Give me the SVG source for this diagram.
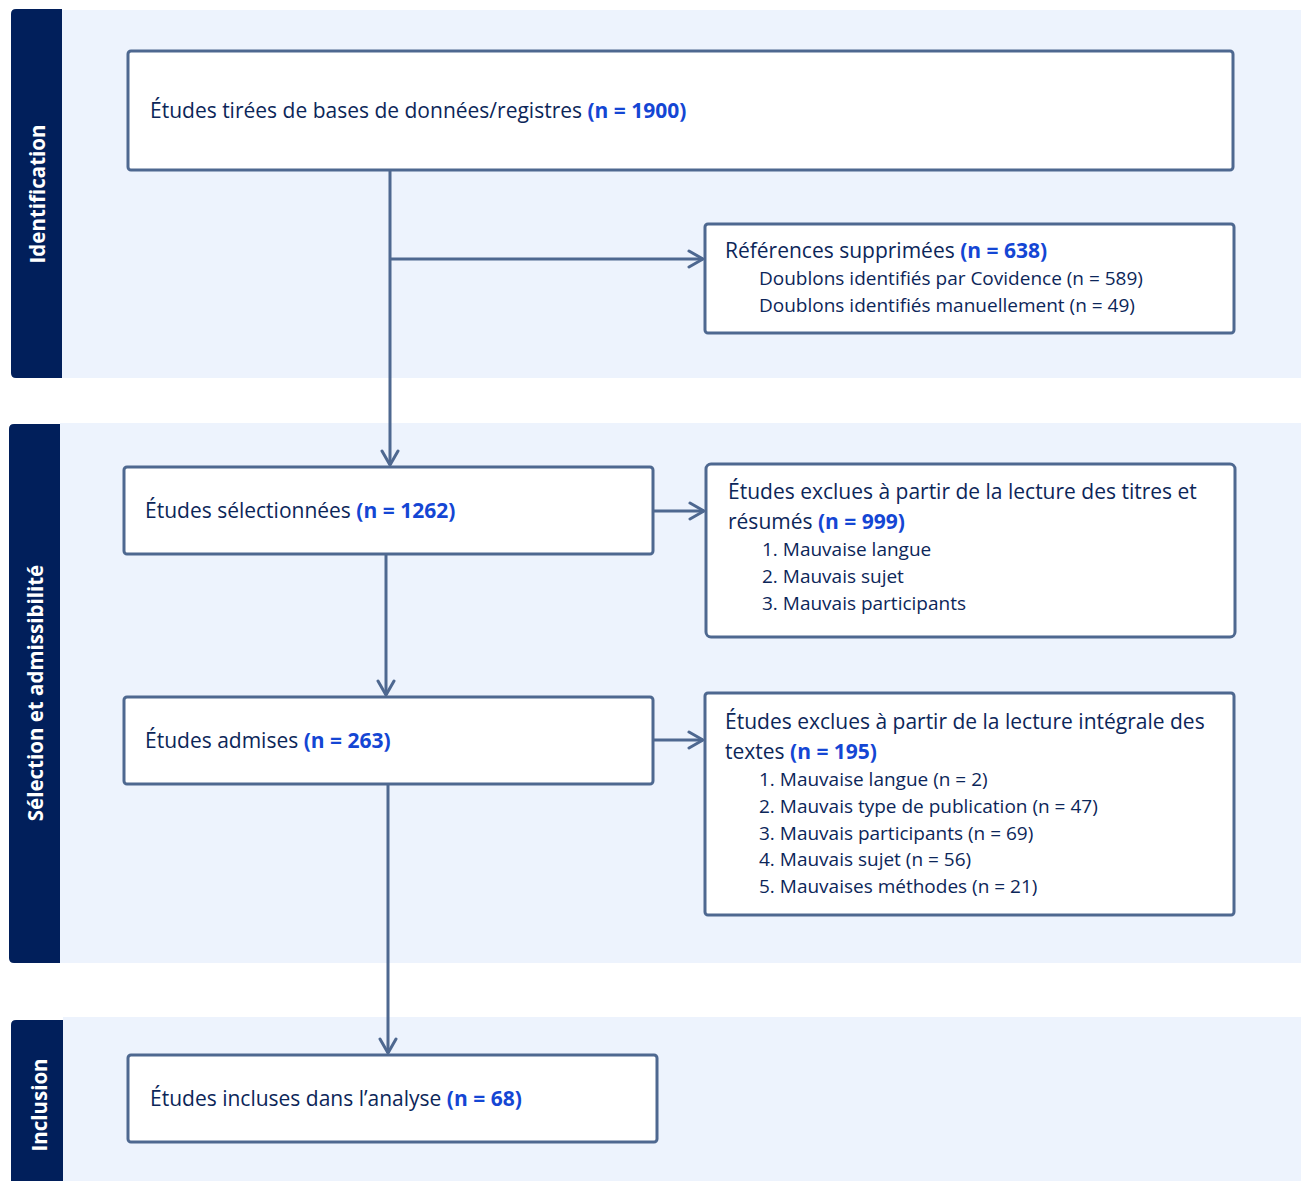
<svg xmlns="http://www.w3.org/2000/svg" width="1301" height="1181" viewBox="0 0 1301 1181">
<style>
.band{fill:#EDF3FD}
.side{fill:#011F5B}
.sidet{fill:#FFFFFF;font-family:"Open Sans",sans-serif;font-weight:700;font-size:20.5px;text-anchor:middle}
.box{fill:#FFFFFF;stroke:#4E6890;stroke-width:3}
.t{fill:#0C2659;font-family:"Open Sans",sans-serif;font-size:21px}
.s{fill:#0C2659;font-family:"Open Sans",sans-serif;font-size:19px}
.b{fill:#1446D4;font-weight:700}
.c{fill:none;stroke:#4E6890;stroke-width:3}
</style>
<defs>
<marker id="arr" viewBox="0 0 20 20" refX="18" refY="10" markerWidth="20" markerHeight="20" markerUnits="userSpaceOnUse" orient="auto">
<path d="M4,2 L18,10 L4,18" fill="none" stroke="#4E6890" stroke-width="3" stroke-linecap="round" stroke-linejoin="round"/>
</marker>
</defs>
<rect width="1301" height="1181" fill="#FFFFFF"/>
<g id="band-identification">
<rect class="band" x="62" y="10" width="1239" height="368"/>
<path class="side" d="M16,9 H62 V378 H16 Q11,378 11,373 V14 Q11,9 16,9 Z"/>
<text class="sidet" transform="translate(45,194) rotate(-90)">Identification</text>
</g>
<g id="band-selection">
<rect class="band" x="60" y="423" width="1241" height="540"/>
<path class="side" d="M14,424 H60 V963 H14 Q9,963 9,958 V429 Q9,424 14,424 Z"/>
<text class="sidet" transform="translate(43,693) rotate(-90)">Sélection  et  admissibilité</text>
</g>
<g id="band-inclusion">
<rect class="band" x="63" y="1017" width="1238" height="164"/>
<path class="side" d="M16,1020 H63 V1181 H11 V1025 Q11,1020 16,1020 Z"/>
<text class="sidet" transform="translate(47,1105) rotate(-90)">Inclusion</text>
</g>
<g id="connectors">
<path class="c" d="M390,170 V465" marker-end="url(#arr)"/>
<path class="c" d="M390,259 H703" marker-end="url(#arr)"/>
<path class="c" d="M653,511 H704" marker-end="url(#arr)"/>
<path class="c" d="M386,554 V695" marker-end="url(#arr)"/>
<path class="c" d="M653,740 H703" marker-end="url(#arr)"/>
<path class="c" d="M388,784 V1053" marker-end="url(#arr)"/>
</g>
<g id="n1">
<rect class="box" x="128" y="51" width="1105" height="119" rx="3"/>
<text class="t" x="150" y="118">Études tirées de bases de données/registres <tspan class="b">(n = 1900)</tspan></text>
</g>
<g id="n2">
<rect class="box" x="705" y="224" width="529" height="109" rx="3"/>
<text class="t" x="725" y="258">Références supprimées <tspan class="b">(n = 638)</tspan></text>
<text class="s" x="759" y="285">Doublons identifiés par Covidence (n = 589)</text>
<text class="s" x="759" y="312">Doublons identifiés manuellement (n = 49)</text>
</g>
<g id="n3">
<rect class="box" x="124" y="467" width="529" height="87" rx="3"/>
<text class="t" x="145" y="518">Études sélectionnées <tspan class="b">(n = 1262)</tspan></text>
</g>
<g id="n4">
<rect class="box" x="706" y="464" width="529" height="173" rx="5"/>
<text class="t" x="728" y="499">Études exclues à partir de la lecture des titres et</text>
<text class="t" x="728" y="529">résumés <tspan class="b">(n = 999)</tspan></text>
<text class="s" x="762" y="556">1. Mauvaise langue</text>
<text class="s" x="762" y="583">2. Mauvais sujet</text>
<text class="s" x="762" y="610">3. Mauvais participants</text>
</g>
<g id="n5">
<rect class="box" x="124" y="697" width="529" height="87" rx="3"/>
<text class="t" x="145" y="748">Études admises <tspan class="b">(n = 263)</tspan></text>
</g>
<g id="n6">
<rect class="box" x="705" y="693" width="529" height="222" rx="3"/>
<text class="t" x="725" y="729">Études exclues à partir de la lecture intégrale des</text>
<text class="t" x="725" y="759">textes <tspan class="b">(n = 195)</tspan></text>
<text class="s" x="759" y="786">1. Mauvaise langue (n = 2)</text>
<text class="s" x="759" y="813">2. Mauvais type de publication (n = 47)</text>
<text class="s" x="759" y="840">3. Mauvais participants (n = 69)</text>
<text class="s" x="759" y="866">4. Mauvais sujet (n = 56)</text>
<text class="s" x="759" y="893">5. Mauvaises méthodes (n = 21)</text>
</g>
<g id="n7">
<rect class="box" x="128" y="1055" width="529" height="87" rx="3"/>
<text class="t" x="150" y="1106">Études incluses dans l’analyse <tspan class="b">(n = 68)</tspan></text>
</g>
</svg>
